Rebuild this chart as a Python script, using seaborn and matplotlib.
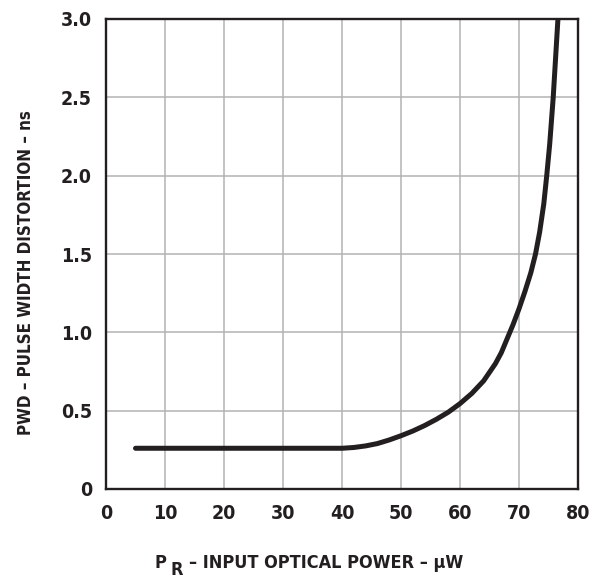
import matplotlib
matplotlib.use("Agg")
import matplotlib.pyplot as plt
import seaborn as sns
import pandas as pd

# input optical power (uW) vs pulse width distortion (ns)
power_uw = [5, 40, 42, 44, 46, 48, 50, 52, 54, 56, 58, 60, 62, 64, 66, 67, 68,
            69, 70, 71, 72, 72.8, 73.5, 74.2, 74.7, 75.2, 75.8, 76.2, 76.6]
pwd_ns = [0.26, 0.26, 0.265, 0.275, 0.29, 0.313, 0.34, 0.37, 0.405, 0.445, 0.49,
          0.545, 0.61, 0.69, 0.80, 0.87, 0.96, 1.05, 1.15, 1.26, 1.38, 1.50, 1.64,
          1.82, 2.00, 2.20, 2.50, 2.75, 3.0]

x_ticks = [0, 10, 20, 30, 40, 50, 60, 70, 80]
y_ticks = [0, 0.5, 1.0, 1.5, 2.0, 2.5, 3.0]
y_tick_labels = ["0", "0.5", "1.0", "1.5", "2.0", "2.5", "3.0"]

sns.set_style("white")
plt.rcParams['font.family'] = ['DejaVu Sans Condensed', 'DejaVu Sans']
plt.rcParams['font.weight'] = 'bold'
plt.rcParams['font.stretch'] = 'condensed'

ink = "#231f20"
df = pd.DataFrame({"power": power_uw, "pwd": pwd_ns})

fig = plt.figure(figsize=(5.93, 5.80), dpi=100)
ax = fig.add_axes([106 / 593, 1 - 489 / 580, 472 / 593, 470 / 580])

sns.lineplot(data=df, x="power", y="pwd", ax=ax, color=ink, linewidth=3.6,
             sort=False, estimator=None, zorder=3)

ax.set_xlim(0, 80)
ax.set_ylim(0, 3.0)
ax.set_xticks(x_ticks)
ax.set_yticks(y_ticks)
ax.set_yticklabels(y_tick_labels)
ax.grid(True, color="#b3b3b3", linewidth=1.1, zorder=0)
ax.tick_params(length=0, labelsize=14, colors=ink)
ax.tick_params(axis="y", pad=10)
ax.tick_params(axis="x", pad=11)
for lab in ax.get_xticklabels() + ax.get_yticklabels():
    lab.set_fontweight('bold')
for s in ax.spines.values():
    s.set_color(ink)
    s.set_linewidth(1.7)
    s.set_visible(True)
ax.set_xlabel("")
ax.set_ylabel("")

# y axis title
fig.text(26 / 593, 1 - 273 / 580, "PWD – PULSE WIDTH DISTORTION – ns", rotation=90,
         ha="center", va="center", fontsize=12.2, fontweight="bold", color=ink)

# x axis title with lowered R
fig.text(155 / 593, 1 - 568 / 580, "P", ha="left", va="baseline",
         fontsize=13, fontweight="bold", color=ink)
fig.text(171 / 593, 1 - 575 / 580, "R", ha="left", va="baseline",
         fontsize=13, fontweight="bold", color=ink)
fig.text(189 / 593, 1 - 568 / 580, "– INPUT OPTICAL POWER – µW", ha="left",
         va="baseline", fontsize=13, fontweight="bold", color=ink)

fig.savefig("out.png", dpi=100)
